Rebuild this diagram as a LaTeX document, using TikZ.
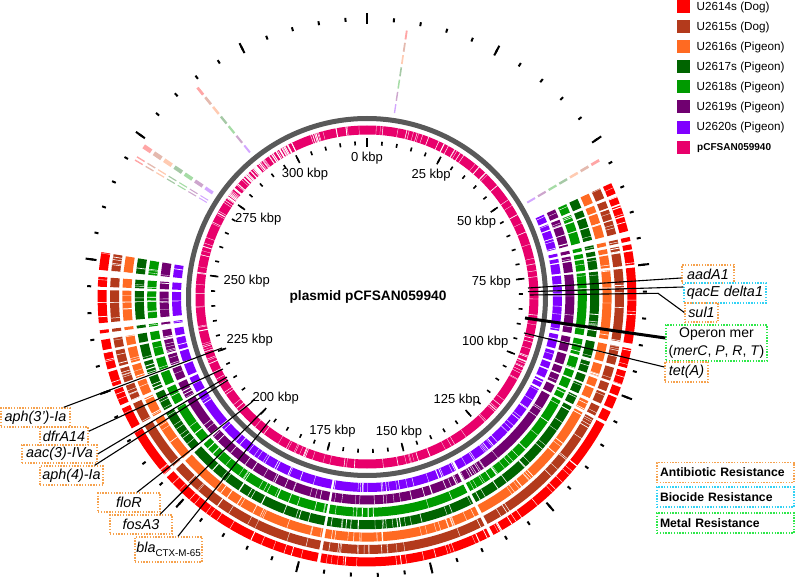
\documentclass[tikz,border=0pt]{standalone}
\usepackage{fontspec}
\setmainfont{Liberation Sans}
\definecolor{cRed}{HTML}{FF0000}
\definecolor{cBrown}{HTML}{B33A1C}
\definecolor{cOrange}{HTML}{FF6A22}
\definecolor{cDkGreen}{HTML}{006400}
\definecolor{cGreen}{HTML}{009A00}
\definecolor{cPurple}{HTML}{700070}
\definecolor{cViolet}{HTML}{8000FF}
\definecolor{cPink}{HTML}{E8006B}
\definecolor{cGrey}{HTML}{595959}
\definecolor{bOrange}{HTML}{F6A24E}
\definecolor{bCyan}{HTML}{33D2F4}
\definecolor{bGreen}{HTML}{2EE84A}
\tikzset{
  ringseg/.style={line width=9pt},
  tickin/.style={line width=1.6pt, black},
  tickout/.style={line width=2pt, black},
  gbox/.style={draw, dash pattern=on 1.4pt off 1.4pt, line width=1.4pt, inner sep=0pt, font=\fontsize{14.4}{17}\selectfont\itshape, align=center},
  abbox/.style={gbox, draw=bOrange},
  bcbox/.style={gbox, draw=bCyan},
  mtbox/.style={gbox, draw=bGreen},
  conn/.style={line width=1.1pt, black},
  kbp/.style={font=\fontsize{13}{15}\selectfont, inner sep=1pt},
  legtxt/.style={font=\fontsize{11.7}{14}\selectfont, anchor=west, inner sep=0pt},
  legsq/.style={minimum size=13pt, inner sep=0pt},
  catbox/.style={draw, dash pattern=on 1.4pt off 1.4pt, line width=1.4pt, minimum width=137pt, text width=131pt, align=left, inner xsep=3pt, inner ysep=0pt, minimum height=20pt, font=\bfseries\fontsize{12.2}{14}\selectfont}
}
\begin{document}
\begin{tikzpicture}[x=1pt,y=1pt]
\useasboundingbox (0,0) rectangle (796,582);
\begin{scope}[shift={(367,285)}]
  % BLAST rings
  \foreach \col [count=\i from 0] in {cViolet,cPurple,cGreen,cDkGreen,cOrange,cBrown,cRed}{
    \pgfmathsetmacro\rr{190.5+12.4*\i}
    \foreach \sa/\ea in {25/22.6, 21.9/20.3, 19.9/17.6, 17.3/14.2, 12.9/12.0, 11.3/10.2, 9.8/6.9, 6.3/-10.0, -11.1/-15.3, -16.0/-19.0, -19.6/-21.5, -22.0/-24.5, -25.2/-27.5, -28.2/-62.0, -62.8/-100.0, -100.7/-138.0, -138.8/-150.0, -150.8/-155.5, -156.3/-159.8, -160.6/-163.8, -164.4/-168.0, -168.6/-170.8, -172.2/-172.9, -174.4/-178.7, -178.9/-181.5, -182.2/-184.3, -185.8/-189.6}{
      \draw[\col, ringseg] (\sa:\rr) arc[start angle=\sa, end angle=\ea, radius=\rr];
    }
    \foreach \sa/\ea in {81.7/81.3, 129.3/128.7, 146.5/145.5, 148.8/148.5, 149.6/149.3, 30.8/30.2}{
      \draw[\col!35, ringseg] (\sa:\rr) arc[start angle=\sa, end angle=\ea, radius=\rr];
    }
  }
  % white stripes in BLAST rings
  \pgfmathsetseed{2024}
  \foreach \col [count=\i from 0] in {cViolet,cPurple,cGreen,cDkGreen,cOrange,cBrown,cRed}{
    \pgfmathsetmacro\ra{185.8+12.4*\i}
    \pgfmathsetmacro\rb{195.2+12.4*\i}
    \foreach \k in {1,...,85}{
      \pgfmathsetmacro\ang{25-rnd*215}
      \pgfmathsetmacro\lw{0.25+0.9*rnd*rnd}
      \draw[white, line width=\lw] (\ang:\ra) -- (\ang:\rb);
    }
  }
  % grey ring and pink ring
  \draw[cGrey, line width=5pt] (0,0) circle[radius=178.5];
  \draw[cPink, line width=9pt] (0,0) circle[radius=167];
  \foreach \k in {1,...,170}{
    \pgfmathsetmacro\ang{rnd*360}
    \pgfmathsetmacro\lw{0.2+0.9*rnd*rnd}
    \draw[white, line width=\lw] (\ang:162.2) -- (\ang:171.8);
  }
  \foreach \k in {1,...,55}{
    \pgfmathsetmacro\ang{116+rnd*30}
    \pgfmathsetmacro\lw{0.3+0.8*rnd}
    \draw[white, line width=\lw] (\ang:162.2) -- (\ang:171.8);
  }
  % ticks
  \foreach \k in {0,...,64}{
    \pgfmathsetmacro\ang{90-\k*5.555556}
    \draw[tickin] (\ang:152) -- (\ang:156);
    \draw[tickout] (\ang:276) -- (\ang:280);
  }
  \foreach \k in {0,...,12}{
    \pgfmathsetmacro\ang{90-\k*27.777778}
    \draw[tickin] (\ang:150) -- (\ang:158.5);
    \draw[tickout] (\ang:273) -- (\ang:284);
    \pgfmathtruncatemacro\kb{\k*25}
    \pgfmathtruncatemacro\anc{mod(\ang+720,360)}
    \node[kbp, anchor=\anc] (lab\kb) at (\ang:146) {\kb\ kbp};
  }
\end{scope}

% title
\node[font=\bfseries\fontsize{13.7}{16}\selectfont] (title) at (368,285) {plasmid pCFSAN059940};

% legend
\foreach \col/\txt/\yy [count=\n] in {cRed/U2614s (Dog)/575, cBrown/U2615s (Dog)/555, cOrange/U2616s (Pigeon)/535, cDkGreen/U2617s (Pigeon)/515, cGreen/U2618s (Pigeon)/495, cPurple/U2619s (Pigeon)/475, cViolet/U2620s (Pigeon)/454.5}{
  \node[legsq, fill=\col] (sq\n) at (683.5,\yy) {};
  \node[legtxt] (lt\n) at (696.5,\yy) {\txt};
}
\node[legsq, fill=cPink] (sq8) at (683.5,434) {};
\node[legtxt, font=\bfseries\fontsize{10}{12}\selectfont] (lt8) at (697,434) {pCFSAN059940};

% category legend
\node[catbox, draw=bOrange] (cab) at (725.5,109.5) {Antibiotic Resistance};
\node[catbox, draw=bCyan] (cbc) at (725.5,85) {Biocide Resistance};
\node[catbox, draw=bGreen] (cmt) at (725.5,59) {Metal Resistance};

% gene labels right
\node[abbox, minimum width=52pt, minimum height=18pt] (aadA1) at (708,308) {aadA1};
\node[bcbox, minimum width=82pt, minimum height=20pt] (qacE) at (725,289) {qacE delta1};
\node[abbox, minimum width=33pt, minimum height=19pt] (sul1) at (701.5,269.5) {sul1};
\node[mtbox, minimum width=101pt, minimum height=36pt, font=\fontsize{14}{18}\selectfont] (mer) at (716.5,239) {Operon mer\\(\textit{merC}, \textit{P}, \textit{R}, \textit{T})};
\node[abbox, minimum width=43pt, minimum height=20pt] (tetA) at (686.5,210) {tet(A)};

% gene labels left
\node[abbox, minimum width=69pt, minimum height=19pt] (aph3) at (35.5,164.5) {aph(3')-Ia};
\node[abbox, minimum width=48pt, minimum height=18pt] (dfr) at (64,146) {dfrA14};
\node[abbox, minimum width=75pt, minimum height=18pt] (aac) at (59.5,128) {aac(3)-IVa};
\node[abbox, minimum width=63pt, minimum height=19pt] (aph4) at (71.5,106.5) {aph(4)-Ia};
\node[abbox, minimum width=62pt, minimum height=19pt] (floR) at (129,79.5) {floR};
\node[abbox, minimum width=62pt, minimum height=19pt] (fosA) at (141,57.5) {fosA3};
\node[abbox, minimum width=67pt, minimum height=25pt] (bla) at (168.5,32.5) {bla\raisebox{-3.5pt}{\upshape\fontsize{9.8}{11}\selectfont CTX-M-65}};

% connector ends
\coordinate (eAad) at (528,294);
\coordinate (eQac) at (528,290.3);
\coordinate (eSul) at (530,287);
\coordinate (bSul) at (658,288.7);
\coordinate (eMer) at (525,264);
\coordinate (eTet) at (524,249);
\coordinate (eAph3) at (222,234);
\coordinate (eDfr) at (223,213);
\coordinate (eAac) at (227,205);
\coordinate (eAph4) at (228,202);
\coordinate (eFlo) at (252,180);
\coordinate (eFos) at (262,170);
\coordinate (eBla) at (270,162);

\draw[conn] (eAad) -- ([yshift=-4pt]aadA1.west);
\draw[conn] (eQac) -- ([yshift=6pt]qacE.west);
\draw[conn] (eSul) -- (bSul) -- (sul1.west);
\draw[conn, line width=3pt] (eMer) -- ([yshift=5pt]mer.west);
\draw[conn] (eTet) -- ([yshift=5pt]tetA.west);

\draw[conn] (eAph3) -- ([xshift=-7pt]aph3.north east);
\draw[conn] (eDfr) -- ([yshift=-5pt]dfr.north east);
\draw[conn] (eAac) -- (aac.east);
\draw[conn] (eAph4) -- ([xshift=-9pt]aph4.north east);
\draw[conn] (eFlo) -- ([xshift=8pt]floR.north);
\draw[conn] (eFos) -- ([xshift=19pt]fosA.north);
\draw[conn] (eBla) -- ([xshift=9.5pt]bla.north);
\end{tikzpicture}
\end{document}
